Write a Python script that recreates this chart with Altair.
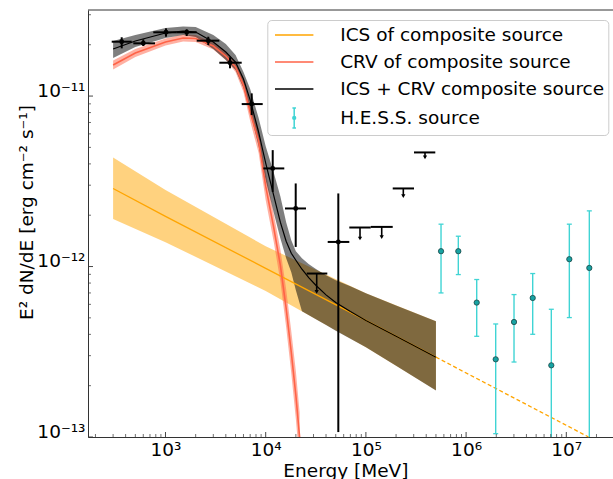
import altair as alt
import pandas as pd

FONT = "DejaVu Sans"
FS = 18.5

# ---------------- values ----------------
# ICS of composite source (MeV ; erg cm^-2 s^-1)
ics_E = [300, 1000, 1.0e4, 1.0e5, 5.0e5]
ics_F = [2.87e-12, 1.97e-12, 9.76e-13, 4.83e-13, 2.94e-13]
ics_lo = [1.90e-12, 1.39e-12, 7.19e-13, 3.36e-13, 1.88e-13]
ics_hi = [4.36e-12, 2.81e-12, 1.315e-12, 6.97e-13, 4.77e-13]
ics_ext_E = [5.0e5, 1.67e7]
ics_ext_F = [2.94e-13, 1.0e-13]

# CRV of composite source
crv_E = [300, 500, 1000, 1500, 2000, 3000, 4000, 5000, 6000, 7000, 8500,
         1.0e4, 1.2e4, 1.4e4, 1.6e4, 1.8e4, 2.0e4, 2.18e4]
crv_F = [1.521e-11, 1.788e-11, 2.075e-11, 2.190e-11, 2.175e-11, 1.966e-11,
         1.717e-11, 1.480e-11, 1.160e-11, 8.054e-12, 5.441e-12, 2.962e-12,
         1.701e-12, 1.018e-12, 5.689e-13, 3.139e-13, 1.755e-13, 1.0e-13]
crv_lo = [1.431e-11, 1.694e-11, 1.979e-11, 2.089e-11, 2.075e-11, 1.875e-11,
          1.627e-11, 1.383e-11, 1.056e-11, 7.132e-12, 4.627e-12, 2.451e-12,
          1.408e-12, 8.197e-13, 4.401e-13, 2.363e-13, 1.269e-13, 7.0e-14]
crv_hi = [1.616e-11, 1.888e-11, 2.175e-11, 2.296e-11, 2.281e-11, 2.061e-11,
          1.813e-11, 1.583e-11, 1.276e-11, 9.097e-12, 6.400e-12, 3.579e-12,
          2.056e-12, 1.264e-12, 7.357e-13, 4.169e-13, 2.428e-13, 1.394e-13]

# ICS + CRV composite source
tot_E = [300, 500, 1000, 1500, 2000, 3000, 4000, 5000, 6000, 7000, 8500,
         1.0e4, 1.2e4, 1.4e4, 1.6e4, 1.8e4, 2.0e4, 2.3e4, 2.7e4, 3.2e4,
         4.0e4, 5.0e4, 7.0e4, 1.0e5, 2.0e5, 5.0e5]
tot_F = [1.888e-11, 2.103e-11, 2.343e-11, 2.407e-11, 2.375e-11, 2.075e-11,
         1.813e-11, 1.583e-11, 1.259e-11, 9.474e-12, 6.146e-12, 4.043e-12,
         2.623e-12, 1.820e-12, 1.408e-12, 1.197e-12, 1.089e-12, 9.64e-13,
         8.571e-13, 7.714e-13, 6.82e-13, 6.153e-13, 5.44e-13, 4.83e-13,
         3.902e-13, 2.94e-13]
tot_lo = [1.671e-11, 1.939e-11, 2.190e-11, 2.281e-11, 2.220e-11, 1.888e-11,
          1.627e-11, 1.422e-11, 1.114e-11, 8.054e-12, 5.085e-12, 3.211e-12,
          2.084e-12, 1.466e-12, 1.119e-12, 9.26e-13, 7.258e-13, 5.463e-13,
          5.176e-13, 4.885e-13, 4.534e-13, 4.207e-13, 3.767e-13, 3.358e-13,
          2.615e-13, 1.877e-13]
tot_hi = [2.103e-11, 2.281e-11, 2.507e-11, 2.558e-11, 2.541e-11, 2.281e-11,
          2.019e-11, 1.740e-11, 1.383e-11, 1.099e-11, 7.428e-12, 5.085e-12,
          3.579e-12, 2.587e-12, 1.820e-12, 1.427e-12, 1.230e-12, 1.119e-12,
          1.031e-12, 9.640e-13, 8.890e-13, 8.308e-13, 7.661e-13, 6.970e-13,
          5.917e-13, 4.773e-13]

# Fermi-LAT flux points (black)
fermi_E = [365.5, 600.2, 1011, 1628, 2673, 4402, 7250, 1.175e4, 1.993e4, 5.304e4]
fermi_Elo = [290.5, 477.1, 755.3, 1294, 2048, 3443, 5761, 9463, 1.558e4, 4.157e4]
fermi_Ehi = [459.9, 785.6, 1294, 2048, 3443, 5761, 9335, 1.533e4, 2.525e4, 6.829e4]
fermi_F = [2.084e-11, 2.039e-11, 2.366e-11, 2.366e-11, 2.113e-11, 1.569e-11,
           8.975e-12, 3.763e-12, 2.191e-12, 1.394e-12]
fermi_Flo = [1.905e-11, 1.966e-11, 2.229e-11, 2.250e-11, 1.993e-11, 1.455e-11,
             7.733e-12, 2.742e-12, 1.303e-12, 1.069e-13]
fermi_Fhi = [2.213e-11, 2.153e-11, 2.497e-11, 2.464e-11, 2.229e-11, 1.687e-11,
             1.037e-11, 4.818e-12, 3.072e-12, 2.684e-12]

# Fermi-LAT upper limits
ul_E = [3.228e4, 8.733e4, 1.438e5, 2.362e5, 3.889e5]
ul_Elo = [2.566e4, 6.829e4, 1.117e5, 1.852e5, 3.020e5]
ul_Ehi = [4.119e4, 1.117e5, 1.852e5, 3.020e5, 4.926e5]
ul_F = [9.097e-13, 1.694e-12, 1.708e-12, 2.871e-12, 4.670e-12]
ul_tip = [7.094e-13, 1.460e-12, 1.486e-12, 2.587e-12, 4.365e-12]

# H.E.S.S. source
hess_E = [5.62e5, 8.36e5, 1.276e6, 1.974e6, 3.007e6, 4.62e6, 7.085e6, 1.072e7, 1.697e7]
hess_F = [1.230e-12, 1.230e-12, 6.145e-13, 2.856e-13, 4.728e-13, 6.539e-13,
          2.633e-13, 1.104e-12, 9.81e-13]
hess_hi = [1.772e-12, 1.506e-12, 8.39e-13, 4.603e-13, 6.847e-13, 9.097e-13,
           5.614e-13, 1.772e-12, 2.121e-12]
hess_lo = [7.0e-13, 8.97e-13, 3.897e-13, 1.046e-13, 2.753e-13, 4.004e-13,
           1.0e-13, 5.018e-13, 1.0e-13]

legend_labels = ["ICS of composite source", "CRV of composite source",
                 "ICS + CRV composite source", "H.E.S.S. source"]

x_ticks = [1e3, 1e4, 1e5, 1e6, 1e7]
y_ticks = [1e-13, 1e-12, 1e-11]

# ---------------- styling ----------------
X_DOM = [168.5, 2.924e7]
Y_DOM = [1e-13, 3.198e-11]
W, H = 525, 427
C_ICS = "#ffa500"
C_CRV = "#ff6347"
C_HESS = "#40d4d4"
SPINE = "#333333"

legend_colors = [C_ICS, C_CRV, "black", C_HESS]
line_path = "M-1.92,0H1.92"
hess_path = ("M0,-1V1M-0.18,-1H0.18M-0.18,1H0.18"
             "M-0.14,0A0.14,0.14,0,1,0,0.14,0A0.14,0.14,0,1,0,-0.14,0")
legend_shapes = [line_path, line_path, line_path, hess_path]

xs = alt.Scale(type="log", domain=X_DOM, nice=False)
ys = alt.Scale(type="log", domain=Y_DOM, nice=False)

x_axis = alt.Axis(
    values=x_ticks, ticks=False, tickSize=0, grid=False, domain=True,
    domainColor=SPINE, domainWidth=1,
    labelExpr=("datum.value < 5000 ? '10³' : datum.value < 5e4 ? '10⁴' : "
               "datum.value < 5e5 ? '10⁵' : datum.value < 5e6 ? '10⁶' : '10⁷'"),
    labelFont=FONT, labelFontSize=FS, labelColor="black",
    labelBaseline="alphabetic", labelPadding=18, labelOverlap=False, labelFlush=False,
    title="Energy [MeV]", titleFont=FONT, titleFontSize=FS, titleFontWeight="normal",
    titleColor="black", titleX=257.4, titleY=39, titleBaseline="alphabetic",
    titleAlign="center",
)
y_axis = alt.Axis(
    values=y_ticks, ticks=False, tickSize=0, grid=False, domain=True,
    domainColor=SPINE, domainWidth=1,
    labelExpr=("datum.value > 5e-12 ? '10⁻¹¹' : datum.value > 5e-13 ? '10⁻¹²' : '10⁻¹³'"),
    labelFont=FONT, labelFontSize=FS, labelColor="black",
    labelBaseline="alphabetic", labelPadding=3, labelOverlap=False, labelFlush=False,
    title="E² dN/dE [erg cm⁻² s⁻¹]", titleFont=FONT, titleFontSize=FS,
    titleFontWeight="normal", titleColor="black", titleAngle=270,
    titleX=-55.7, titleY=202, titleBaseline="alphabetic", titleAlign="center",
)


def X(f):
    return alt.X(f"{f}:Q", scale=xs, axis=x_axis)


def Y(f):
    return alt.Y(f"{f}:Q", scale=ys, axis=y_axis)


ics_df = pd.DataFrame({"E": ics_E, "F": ics_F, "lo": ics_lo, "hi": ics_hi})
ics_ext_df = pd.DataFrame({"E": ics_ext_E, "F": ics_ext_F})
crv_df = pd.DataFrame({"E": crv_E, "F": crv_F, "lo": crv_lo, "hi": crv_hi})
tot_df = pd.DataFrame({"E": tot_E, "F": tot_F, "lo": tot_lo, "hi": tot_hi})
fermi_df = pd.DataFrame({"E": fermi_E, "Elo": fermi_Elo, "Ehi": fermi_Ehi,
                         "F": fermi_F, "Flo": fermi_Flo, "Fhi": fermi_Fhi})
ul_df = pd.DataFrame({"E": ul_E, "Elo": ul_Elo, "Ehi": ul_Ehi, "F": ul_F, "tip": ul_tip})
hess_df = pd.DataFrame({"E": hess_E, "F": hess_F, "lo": hess_lo, "hi": hess_hi})

ics_band = alt.Chart(ics_df).mark_area(color=C_ICS, opacity=0.5).encode(
    x=X("E"), y=Y("lo"), y2="hi:Q")
crv_band = alt.Chart(crv_df).mark_area(color=C_CRV, opacity=0.5, clip=True).encode(
    x=X("E"), y=Y("lo"), y2="hi:Q")
tot_band = alt.Chart(tot_df).mark_area(color="black", opacity=0.5).encode(
    x=X("E"), y=Y("lo"), y2="hi:Q")

ics_line = alt.Chart(ics_df).mark_line(color=C_ICS, strokeWidth=1.3).encode(x=X("E"), y=Y("F"))
ics_dash = alt.Chart(ics_ext_df).mark_line(color=C_ICS, strokeWidth=1.3, strokeDash=[4, 2.5]).encode(
    x=X("E"), y=Y("F"))
crv_line = alt.Chart(crv_df).mark_line(color=C_CRV, strokeWidth=1.6, clip=True).encode(
    x=X("E"), y=Y("F"))
tot_line = alt.Chart(tot_df).mark_line(color="black", strokeWidth=1.2).encode(
    x=X("E"), y=Y("F"))

f_xerr = alt.Chart(fermi_df).mark_rule(color="black", strokeWidth=2).encode(
    x=X("Elo"), x2="Ehi:Q", y=Y("F"))
f_yerr = alt.Chart(fermi_df).mark_rule(color="black", strokeWidth=2).encode(
    x=X("E"), y=Y("Flo"), y2="Fhi:Q")
f_pts = alt.Chart(fermi_df).mark_circle(color="black", size=24, opacity=1).encode(
    x=X("E"), y=Y("F"))

ul_bar = alt.Chart(ul_df).mark_rule(color="black", strokeWidth=2).encode(
    x=X("Elo"), x2="Ehi:Q", y=Y("F"))
ul_stem = alt.Chart(ul_df).mark_rule(color="black", strokeWidth=1.6).encode(
    x=X("E"), y=Y("F"), y2="tip:Q")
ul_head = alt.Chart(ul_df).mark_point(shape="triangle-down", filled=True, size=18,
                                      color="black", opacity=1).encode(x=X("E"), y=Y("tip"))

h_err = alt.Chart(hess_df).mark_rule(color=C_HESS, strokeWidth=1.4).encode(
    x=X("E"), y=Y("lo"), y2="hi:Q")
h_cap_hi = alt.Chart(hess_df).mark_tick(orient="horizontal", size=5, thickness=1.3,
                                        color=C_HESS, opacity=1).encode(x=X("E"), y=Y("hi"))
h_cap_lo = alt.Chart(hess_df).transform_filter("datum.lo > 1.01e-13").mark_tick(
    orient="horizontal", size=5, thickness=1.3, color=C_HESS, opacity=1).encode(
    x=X("E"), y=Y("lo"))
h_pts = alt.Chart(hess_df).mark_point(shape="circle", filled=True, fill="#17a3a3",
                                      stroke="#1b4545", strokeWidth=0.8, size=28,
                                      opacity=1).encode(x=X("E"), y=Y("F"))

# inward ticks, as in the original
xt_minor = [m * 10 ** k for k in range(2, 8) for m in range(2, 10)
            if X_DOM[0] < m * 10 ** k < X_DOM[1]]
yt_minor = [m * 10.0 ** k for k in (-13, -12, -11) for m in range(2, 10)
            if m * 10.0 ** k < Y_DOM[1]]
xt_major_r = alt.Chart(pd.DataFrame({"v": x_ticks})).mark_rule(color=SPINE, strokeWidth=0.9).encode(
    x=X("v"), y=alt.value(H), y2=alt.value(H - 5))
xt_minor_r = alt.Chart(pd.DataFrame({"v": xt_minor})).mark_rule(color=SPINE, strokeWidth=0.7).encode(
    x=X("v"), y=alt.value(H), y2=alt.value(H - 3))
yt_major_r = alt.Chart(pd.DataFrame({"v": y_ticks})).mark_rule(color=SPINE, strokeWidth=0.9).encode(
    y=Y("v"), x=alt.value(0), x2=alt.value(5))
yt_minor_r = alt.Chart(pd.DataFrame({"v": yt_minor})).mark_rule(color=SPINE, strokeWidth=0.7).encode(
    y=Y("v"), x=alt.value(0), x2=alt.value(3))
top_spine = alt.Chart(pd.DataFrame({"v": [0]})).mark_rule(color=SPINE, strokeWidth=1).encode(
    x=alt.value(0), x2=alt.value(W), y=alt.value(0))

leg = alt.Legend(
    title=None, orient="none", legendX=179.3, legendY=10,
    symbolSize=400, symbolStrokeWidth=1.5, symbolOpacity=1, symbolOffset=11.9,
    labelFont=FONT, labelFontSize=FS, labelColor="black", labelLimit=500,
    labelOffset=35, rowPadding=6, padding=4,
    strokeColor="#cccccc", fillColor="rgba(255,255,255,0.8)", cornerRadius=4,
)
legend_layer = alt.Chart(pd.DataFrame({"label": legend_labels})).transform_filter(
    "false").mark_point(filled=False, opacity=1, strokeWidth=1.5).encode(
    color=alt.Color("label:N", scale=alt.Scale(domain=legend_labels, range=legend_colors),
                    legend=leg),
    shape=alt.Shape("label:N", scale=alt.Scale(domain=legend_labels, range=legend_shapes),
                    legend=leg),
)

chart = alt.layer(
    ics_band, crv_band, tot_band,
    ics_line, ics_dash, crv_line, tot_line,
    f_xerr, f_yerr, f_pts,
    ul_bar, ul_stem, ul_head,
    h_err, h_cap_hi, h_cap_lo, h_pts,
    xt_major_r, xt_minor_r, yt_major_r, yt_minor_r, top_spine,
    legend_layer,
).properties(
    width=W, height=H,
    padding={"left": 88, "top": 10, "right": 0, "bottom": 42},
    autosize=alt.AutoSizeParams(type="none"),
    background="white",
).configure_view(stroke=None)

chart.save("out.html", embed_options={"renderer": "svg", "actions": False})
